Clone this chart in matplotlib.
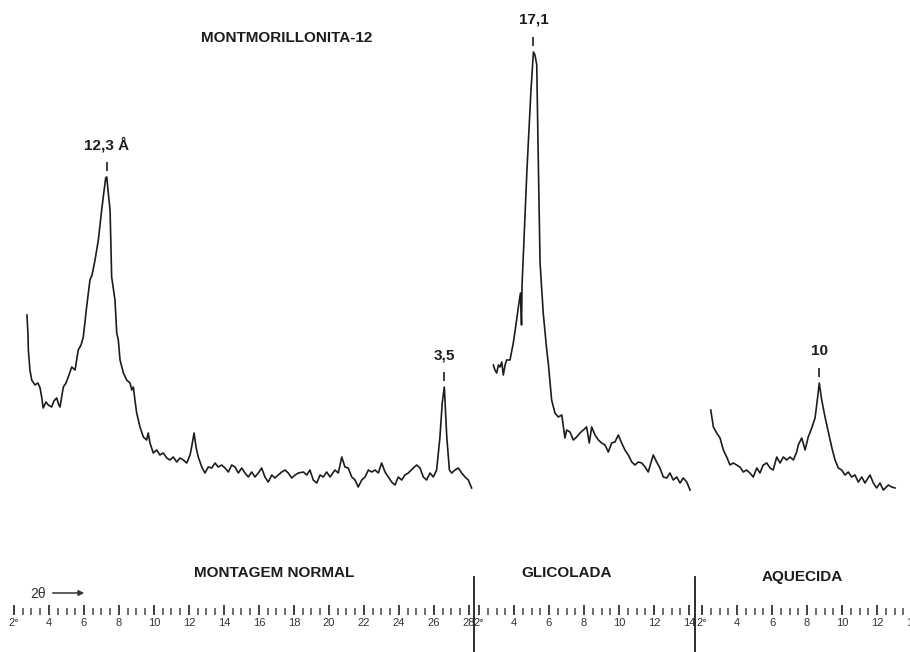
import numpy as np
import matplotlib.pyplot as plt
from matplotlib.lines import Line2D

plt.rcParams['font.family'] = ['Liberation Sans', 'DejaVu Sans']

# difratogramas (2theta em graus, intensidade em unidades arbitrarias)
normal = [
    (2.74, 205), (2.80, 185), (2.82, 170), (2.91, 150), (3.01, 140), (3.20, 135),
    (3.37, 137), (3.49, 132), (3.58, 123), (3.67, 112), (3.83, 118), (3.96, 115),
    (4.15, 113), (4.28, 119), (4.44, 122), (4.54, 116), (4.63, 113), (4.74, 125),
    (4.82, 133), (4.97, 137), (5.10, 143), (5.30, 153), (5.49, 150), (5.67, 170),
    (5.83, 175), (5.96, 183), (6.15, 213), (6.34, 240), (6.46, 245), (6.63, 260),
    (6.82, 280), (7.01, 310), (7.10, 323), (7.24, 342), (7.30, 343), (7.40, 325),
    (7.49, 310), (7.58, 243), (7.77, 220), (7.87, 187), (7.96, 180), (8.06, 160),
    (8.25, 147), (8.44, 140), (8.63, 137), (8.73, 130), (8.82, 133), (8.91, 120),
    (9.01, 107), (9.20, 93), (9.39, 83), (9.58, 80), (9.67, 87), (9.77, 77),
    (9.96, 67), (10.15, 70), (10.34, 65), (10.53, 67), (10.73, 62), (10.91, 60),
    (11.10, 63), (11.30, 58), (11.49, 62), (11.67, 60), (11.87, 57), (12.06, 65),
    (12.15, 73), (12.29, 87), (12.40, 73), (12.53, 63), (12.73, 53), (12.91, 47),
    (13.10, 53), (13.30, 52), (13.49, 57), (13.67, 53), (13.87, 55), (14.06, 52),
    (14.25, 48), (14.44, 55), (14.63, 53), (14.82, 47), (15.01, 52), (15.20, 47),
    (15.39, 43), (15.58, 48), (15.77, 43), (15.96, 47), (16.15, 52), (16.34, 43),
    (16.53, 38), (16.73, 45), (16.91, 42), (17.10, 45), (17.30, 48), (17.49, 50),
    (17.67, 47), (17.87, 42), (18.06, 45), (18.25, 47), (18.53, 48), (18.73, 45),
    (18.91, 50), (19.10, 40), (19.30, 37), (19.49, 45), (19.67, 43), (19.87, 48),
    (20.06, 43), (20.34, 50), (20.53, 47), (20.73, 63), (20.91, 53), (21.10, 52),
    (21.30, 43), (21.49, 40), (21.67, 33), (21.87, 40), (22.06, 43), (22.25, 50),
    (22.44, 48), (22.63, 50), (22.82, 47), (23.01, 57), (23.20, 48), (23.39, 43),
    (23.58, 38), (23.77, 35), (23.96, 43), (24.15, 40), (24.34, 45), (24.53, 47),
    (24.82, 52), (25.01, 55), (25.20, 52), (25.39, 43), (25.58, 40), (25.77, 47),
    (25.96, 43), (26.15, 50), (26.34, 83), (26.47, 117), (26.59, 133), (26.73, 83),
    (26.88, 50), (27.01, 47), (27.20, 50), (27.39, 52), (27.58, 47), (27.77, 43),
    (27.96, 40), (28.15, 32),
]

glicolada = [
    (2.82, 155), (2.91, 150), (3.01, 147), (3.11, 155), (3.20, 153), (3.30, 158),
    (3.39, 145), (3.49, 155), (3.58, 160), (3.77, 160), (3.96, 177), (4.15, 200),
    (4.25, 213), (4.37, 227), (4.43, 195), (4.46, 235), (4.74, 350), (4.97, 430),
    (5.11, 468), (5.20, 465), (5.30, 455), (5.39, 357), (5.49, 257), (5.67, 207),
    (5.87, 170), (5.97, 155), (6.15, 120), (6.34, 107), (6.53, 103), (6.73, 105),
    (6.91, 82), (7.01, 90), (7.20, 88), (7.39, 80), (7.58, 83), (7.77, 87),
    (7.96, 90), (8.15, 93), (8.30, 77), (8.44, 93), (8.63, 85), (8.82, 80),
    (9.01, 77), (9.20, 75), (9.39, 68), (9.58, 77), (9.77, 78), (9.96, 85),
    (10.15, 77), (10.34, 70), (10.53, 65), (10.73, 58), (10.91, 55), (11.10, 58),
    (11.30, 57), (11.49, 53), (11.67, 48), (11.87, 60), (11.96, 65), (12.15, 58),
    (12.34, 52), (12.53, 43), (12.73, 42), (12.91, 47), (13.10, 40), (13.30, 43),
    (13.49, 37), (13.67, 42), (13.87, 38), (14.06, 30),
]

aquecida = [
    (2.50, 110), (2.65, 93), (2.84, 87), (3.03, 82), (3.22, 70), (3.41, 63),
    (3.60, 55), (3.79, 57), (3.98, 55), (4.17, 53), (4.36, 48), (4.55, 50),
    (4.74, 47), (4.93, 43), (5.13, 52), (5.31, 47), (5.50, 55), (5.70, 57),
    (5.89, 52), (6.07, 50), (6.27, 63), (6.46, 57), (6.65, 63), (6.84, 60),
    (7.03, 63), (7.22, 60), (7.41, 68), (7.50, 75), (7.70, 82), (7.89, 70),
    (8.07, 83), (8.27, 92), (8.46, 102), (8.61, 123), (8.70, 137), (8.84, 120),
    (9.03, 103), (9.22, 88), (9.41, 73), (9.60, 60), (9.79, 52), (9.98, 50),
    (10.17, 45), (10.36, 48), (10.55, 43), (10.74, 45), (10.93, 38), (11.13, 43),
    (11.31, 37), (11.60, 45), (11.79, 37), (11.98, 32), (12.17, 37), (12.36, 30),
    (12.65, 35), (12.84, 33), (13.03, 32),
]

# picos identificados (d em angstrom, posicao aproximada em 2theta)
picos_normal = [("12,3 Å", 7.3), ("3,5", 26.6)]
picos_glicolada = [("17,1", 5.1)]
picos_aquecida = [("10", 8.7)]

secoes = ["MONTAGEM NORMAL", "GLICOLADA", "AQUECIDA"]

W, H = 910, 652
PX = 17.5          # pixels por grau 2theta
TINTA = '#1c1c1c'

fig = plt.figure(figsize=(W / 100, H / 100), dpi=100)


def painel(x0, lim, dados, picos):
    esq = x0 + (lim[0] - 2) * PX
    dir_ = x0 + (lim[1] - 2) * PX
    ax = fig.add_axes([esq / W, 37 / H, (dir_ - esq) / W, 615 / H])
    ax.set_xlim(*lim)
    ax.set_ylim(-95, 520)
    for s in ax.spines.values():
        s.set_visible(False)
    ax.set_yticks([])

    tt, ii = np.array(dados).T
    ax.plot(tt, ii, color=TINTA, lw=1.2, solid_joinstyle='round')

    maiores = np.arange(2, lim[1] + 0.01, 2)
    ax.set_xticks(maiores)
    ax.set_xticklabels(['2°'] + [str(int(v)) for v in maiores[1:]])
    ax.set_xticks(np.arange(2, lim[1] + 0.01, 0.5), minor=True)
    ax.tick_params(axis='x', which='major', direction='in', length=7, width=1.3,
                   color='#333333', pad=2, labelsize=8, labelcolor='#333333')
    ax.tick_params(axis='x', which='minor', direction='in', length=5, width=1.1,
                   color='#444444')

    for txt, pos in picos:
        m = np.abs(tt - pos) < 0.3
        k = np.argmax(np.where(m, ii, -1))
        ax.vlines(tt[k], ii[k] + 6, ii[k] + 15, color=TINTA, lw=1.2)
        ax.text(tt[k], ii[k] + 32, txt, ha='center', va='center',
                fontsize=11, fontweight='bold', color=TINTA)
    return ax


ax1 = painel(14, (1.9, 28.25), normal, picos_normal)
ax2 = painel(479, (1.9, 14.45), glicolada, picos_glicolada)
ax3 = painel(702, (1.9, 14.6), aquecida, picos_aquecida)

# separadores entre as montagens
for xp in (474, 695):
    fig.add_artist(Line2D([xp / W, xp / W], [0, (H - 577) / H],
                          transform=fig.transFigure, color=TINTA, lw=1.3))

fig.text(287 / W, 1 - 38.5 / H, "MONTMORILLONITA-12", ha='center', va='center',
         fontsize=11, fontweight='bold', color=TINTA)

for nome, (xp, yp) in zip(secoes, [(274, 573), (567, 573), (802, 577)]):
    fig.text(xp / W, 1 - yp / H, nome, ha='center', va='center',
             fontsize=11, fontweight='bold', color=TINTA)

fig.text(38 / W, 1 - 594 / H, "2θ", ha='center', va='center', fontsize=10,
         color='#333333')
fig.add_artist(plt.Annotation('', xy=(87 / W, 1 - 593 / H), xytext=(50 / W, 1 - 593 / H),
                              xycoords='figure fraction', textcoords='figure fraction',
                              arrowprops=dict(arrowstyle='-|>', lw=1.1, color='#333333',
                                              mutation_scale=8)))

fig.savefig('out.png', dpi=100, facecolor='white')
